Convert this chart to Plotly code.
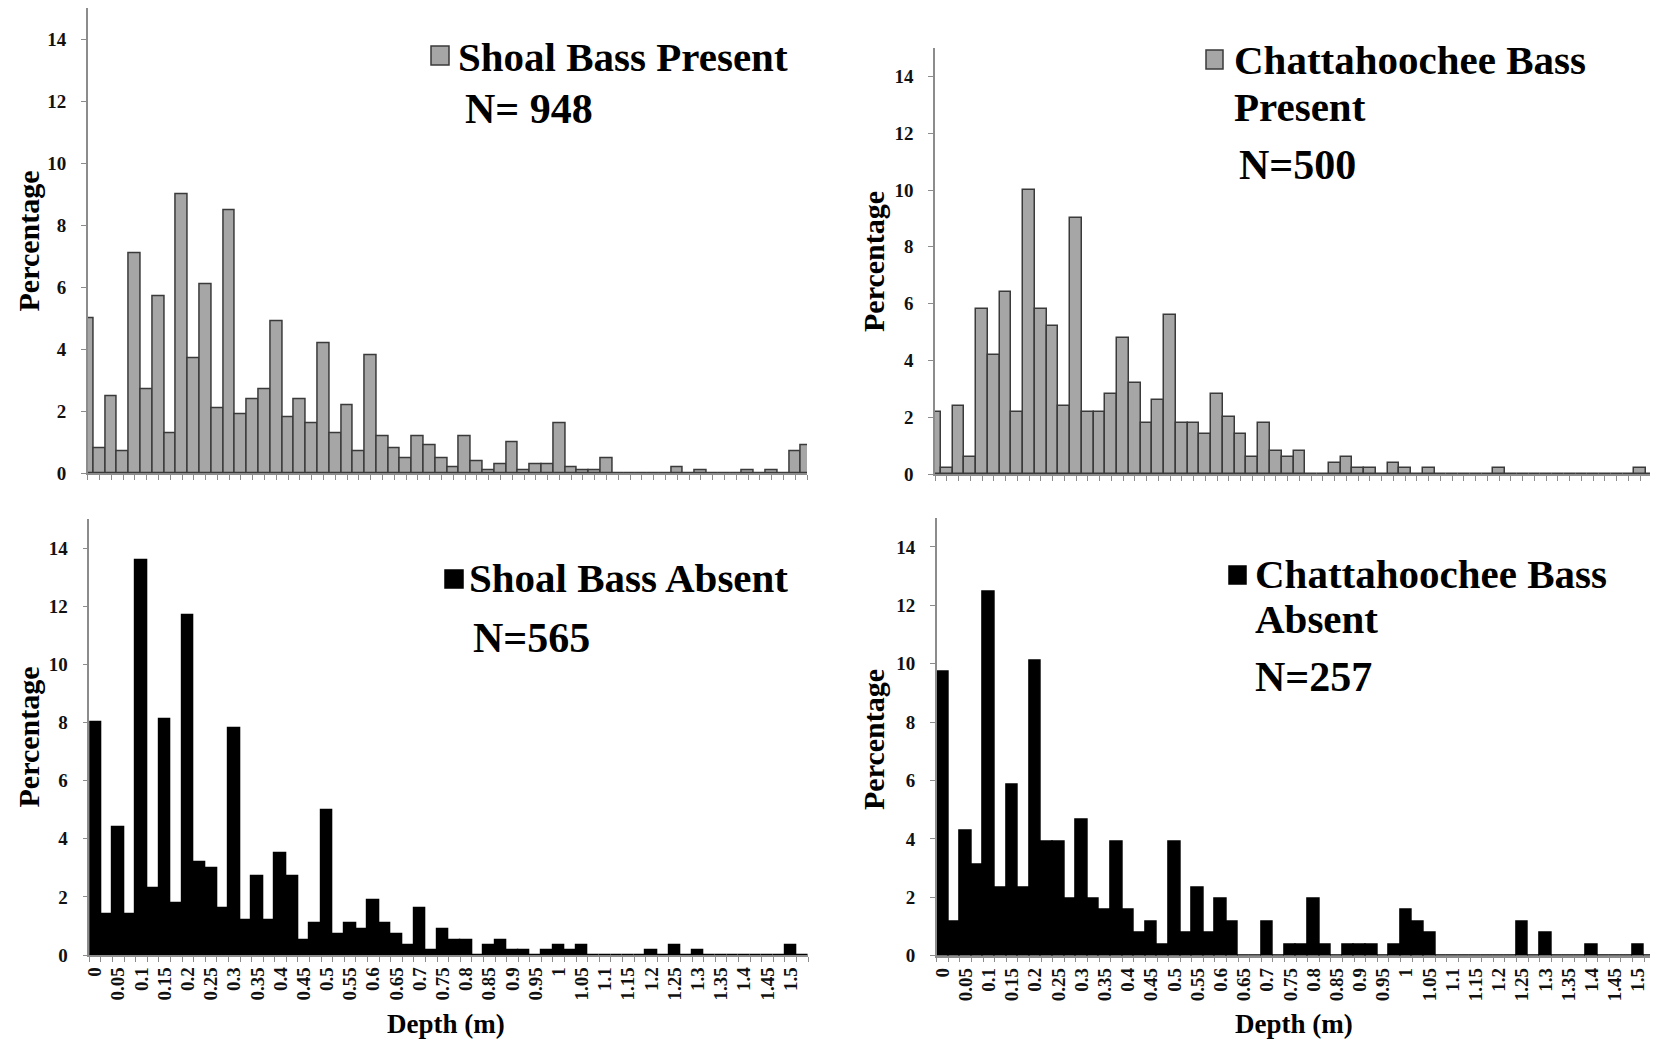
import plotly.graph_objects as go

# ---------------- data ----------------
depth = [0, 0.025, 0.05, 0.075, 0.1, 0.125, 0.15, 0.175, 0.2, 0.225,
         0.25, 0.275, 0.3, 0.325, 0.35, 0.375, 0.4, 0.425, 0.45, 0.475,
         0.5, 0.525, 0.55, 0.575, 0.6, 0.625, 0.65, 0.675, 0.7, 0.725,
         0.75, 0.775, 0.8, 0.825, 0.85, 0.875, 0.9, 0.925, 0.95, 0.975,
         1.0, 1.025, 1.05, 1.075, 1.1, 1.125, 1.15, 1.175, 1.2, 1.225,
         1.25, 1.275, 1.3, 1.325, 1.35, 1.375, 1.4, 1.425, 1.45, 1.475,
         1.5, 1.525]

shoal_present = [5.0, 0.8, 2.5, 0.7, 7.1, 2.7, 5.7, 1.3, 9.0, 3.7,
                 6.1, 2.1, 8.5, 1.9, 2.4, 2.7, 4.9, 1.8, 2.4, 1.6,
                 4.2, 1.3, 2.2, 0.7, 3.8, 1.2, 0.8, 0.5, 1.2, 0.9,
                 0.5, 0.2, 1.2, 0.4, 0.1, 0.3, 1.0, 0.1, 0.3, 0.3,
                 1.6, 0.2, 0.1, 0.1, 0.5, 0, 0, 0, 0, 0,
                 0.2, 0, 0.1, 0, 0, 0, 0.1, 0, 0.1, 0,
                 0.7, 0.9]

chatt_present = [2.2, 0.2, 2.4, 0.6, 5.8, 4.2, 6.4, 2.2, 10.0, 5.8,
                 5.2, 2.4, 9.0, 2.2, 2.2, 2.8, 4.8, 3.2, 1.8, 2.6,
                 5.6, 1.8, 1.8, 1.4, 2.8, 2.0, 1.4, 0.6, 1.8, 0.8,
                 0.6, 0.8, 0, 0, 0.4, 0.6, 0.2, 0.2, 0, 0.4,
                 0.2, 0, 0.2, 0, 0, 0, 0, 0, 0.2, 0,
                 0, 0, 0, 0, 0, 0, 0, 0, 0, 0,
                 0.2, 0]

shoal_absent = [8.0, 1.4, 4.4, 1.4, 13.6, 2.3, 8.1, 1.8, 11.7, 3.2,
                3.0, 1.6, 7.8, 1.2, 2.7, 1.2, 3.5, 2.7, 0.5, 1.1,
                5.0, 0.7, 1.1, 0.9, 1.9, 1.1, 0.7, 0.35, 1.6, 0.18,
                0.9, 0.5, 0.5, 0, 0.35, 0.5, 0.18, 0.18, 0, 0.18,
                0.35, 0.18, 0.35, 0, 0, 0, 0, 0, 0.18, 0,
                0.35, 0, 0.18, 0, 0, 0, 0, 0, 0, 0,
                0.35, 0]

chatt_absent = [9.73, 1.17, 4.28, 3.11, 12.45, 2.33, 5.84, 2.33, 10.12, 3.89,
                3.89, 1.95, 4.67, 1.95, 1.56, 3.89, 1.56, 0.78, 1.17, 0.39,
                3.89, 0.78, 2.33, 0.78, 1.95, 1.17, 0, 0, 1.17, 0,
                0.39, 0.39, 1.95, 0.39, 0, 0.39, 0.39, 0.39, 0, 0.39,
                1.56, 1.17, 0.78, 0, 0, 0, 0, 0, 0, 0,
                1.17, 0, 0.78, 0, 0, 0, 0.39, 0, 0, 0,
                0.39, 0]

label_vals = [0, 0.05, 0.1, 0.15, 0.2, 0.25, 0.3, 0.35, 0.4, 0.45, 0.5,
              0.55, 0.6, 0.65, 0.7, 0.75, 0.8, 0.85, 0.9, 0.95, 1.0,
              1.05, 1.1, 1.15, 1.2, 1.25, 1.3, 1.35, 1.4, 1.45, 1.5]
label_text = ["0", "0.05", "0.1", "0.15", "0.2", "0.25", "0.3", "0.35", "0.4",
              "0.45", "0.5", "0.55", "0.6", "0.65", "0.7", "0.75", "0.8", "0.85",
              "0.9", "0.95", "1", "1.05", "1.1", "1.15", "1.2", "1.25", "1.3",
              "1.35", "1.4", "1.45", "1.5"]
y_ticks = [0, 2, 4, 6, 8, 10, 12, 14]

# ---------------- layout helpers ----------------
# The page body has an 8px margin, so the figure is drawn 8px smaller
# and all page-pixel positions are shifted by that offset.
OFF = 8
W, H = 1658 - OFF, 1043 - OFF
FONT = "Liberation Serif, Times New Roman, serif"
GRAY = "#a6a6a6"
AXC = "#8c8c8c"


def px(x):
    return (x - OFF) / W


def py(y):
    return 1 - (y - OFF) / H


fig = go.Figure()

panels = [
    # values, fill, line, xaxis, yaxis, xdomain(px), ydomain(px bottom, top), bottom?
    (shoal_present, GRAY, "#3a3a3a", "x", "y", (87.7, 807), (473.3, 8.3), False),
    (chatt_present, GRAY, "#3a3a3a", "x2", "y2", (935, 1652), (474, 48), False),
    (shoal_absent, "black", "black", "x3", "y3", (89.3, 808), (955, 519.2), True),
    (chatt_absent, "black", "black", "x4", "y4", (936.7, 1655.6), (955.7, 517.7), True),
]

boundaries = [d - 0.0125 for d in depth] + [depth[-1] + 0.0125]

for i, (vals, fill, lcol, xa, ya, xd, yd, bottom) in enumerate(panels):
    fig.add_trace(go.Bar(
        x=depth, y=vals, width=0.025,
        marker=dict(color=fill, line=dict(color=lcol, width=1.5)),
        xaxis=xa, yaxis=ya, showlegend=False,
    ))
    n = "" if i == 0 else str(i + 1)
    xkey, ykey = "xaxis" + n, "yaxis" + n
    xcfg = dict(
        domain=[max(0, px(xd[0])), min(1, px(xd[1]))], anchor=ya, automargin=False,
        showline=True, linecolor=AXC, linewidth=1.5,
        showgrid=False, zeroline=False,
    )
    if bottom:
        xcfg.update(
            range=[-0.0125, 1.5375],
            tickmode="array", tickvals=label_vals, ticktext=label_text,
            ticks="", tickangle=-90, ticklabelstandoff=3,
            tickfont=dict(family=FONT, size=19, color="#111", weight="bold"),
            minor=dict(tickmode="array", tickvals=boundaries, ticks="outside",
                       ticklen=5, tickcolor=AXC, tickwidth=1),
        )
    else:
        xcfg.update(
            range=[0, 1.525],
            tickmode="array", tickvals=depth, showticklabels=False,
            ticks="outside", ticklen=5, tickcolor=AXC, tickwidth=1,
        )
    ycfg = dict(
        domain=[max(0, py(yd[0])), min(1, py(yd[1]))], anchor=xa, range=[0, 15],
        automargin=False,
        tickmode="array", tickvals=y_ticks,
        showline=True, linecolor=AXC, linewidth=1.5,
        ticks="outside", ticklen=5, tickcolor=AXC, tickwidth=1,
        showgrid=False, zeroline=False, ticklabelstandoff=11,
        tickfont=dict(family=FONT, size=19, color="#111", weight="bold"),
    )
    fig.layout[xkey] = xcfg
    fig.layout[ykey] = ycfg

annotations = []
shapes = []


def text(x, y, s, size, angle=0, xanchor="left"):
    annotations.append(dict(
        x=px(x), y=py(y), xref="paper", yref="paper", text=s, showarrow=False,
        xanchor=xanchor, yanchor="middle", textangle=angle,
        font=dict(family=FONT, size=size, color="black", weight="bold"),
    ))


def square(x0, y0, x1, y1, fill, line):
    shapes.append(dict(type="rect", xref="paper", yref="paper",
                       x0=px(x0), x1=px(x1), y0=py(y1), y1=py(y0),
                       fillcolor=fill, line=dict(color=line, width=1.5)))


# y-axis titles
for (x, y) in [(28.5, 241), (873, 262), (27.5, 737), (873, 740)]:
    text(x, y, "Percentage", 30, angle=-90, xanchor="center")
# x-axis titles
for x in [446, 1294]:
    text(x, 1024, "Depth (m)", 27, xanchor="center")

# legends
square(431, 46, 449, 65, GRAY, "#3a3a3a")
text(456, 57, "Shoal Bass Present", 41)
text(463, 109, "N= 948", 42)

square(1206, 50, 1223, 69, GRAY, "#3a3a3a")
text(1232, 60, "Chattahoochee Bass", 41)
text(1232, 107, "Present", 41)
text(1237, 165, "N=500", 42)

square(445, 570, 463, 588, "black", "black")
text(467, 578, "Shoal Bass Absent", 41)
text(471, 638, "N=565", 42)

square(1229, 566, 1246, 584, "black", "black")
text(1253, 574, "Chattahoochee Bass", 41)
text(1253, 619, "Absent", 41)
text(1253, 677, "N=257", 42)

fig.update_layout(
    width=W, height=H,
    margin=dict(l=0, r=0, t=0, b=0, autoexpand=False),
    paper_bgcolor="white", plot_bgcolor="white",
    bargap=0, showlegend=False,
    annotations=annotations, shapes=shapes,
)

fig.write_html("out.html")
